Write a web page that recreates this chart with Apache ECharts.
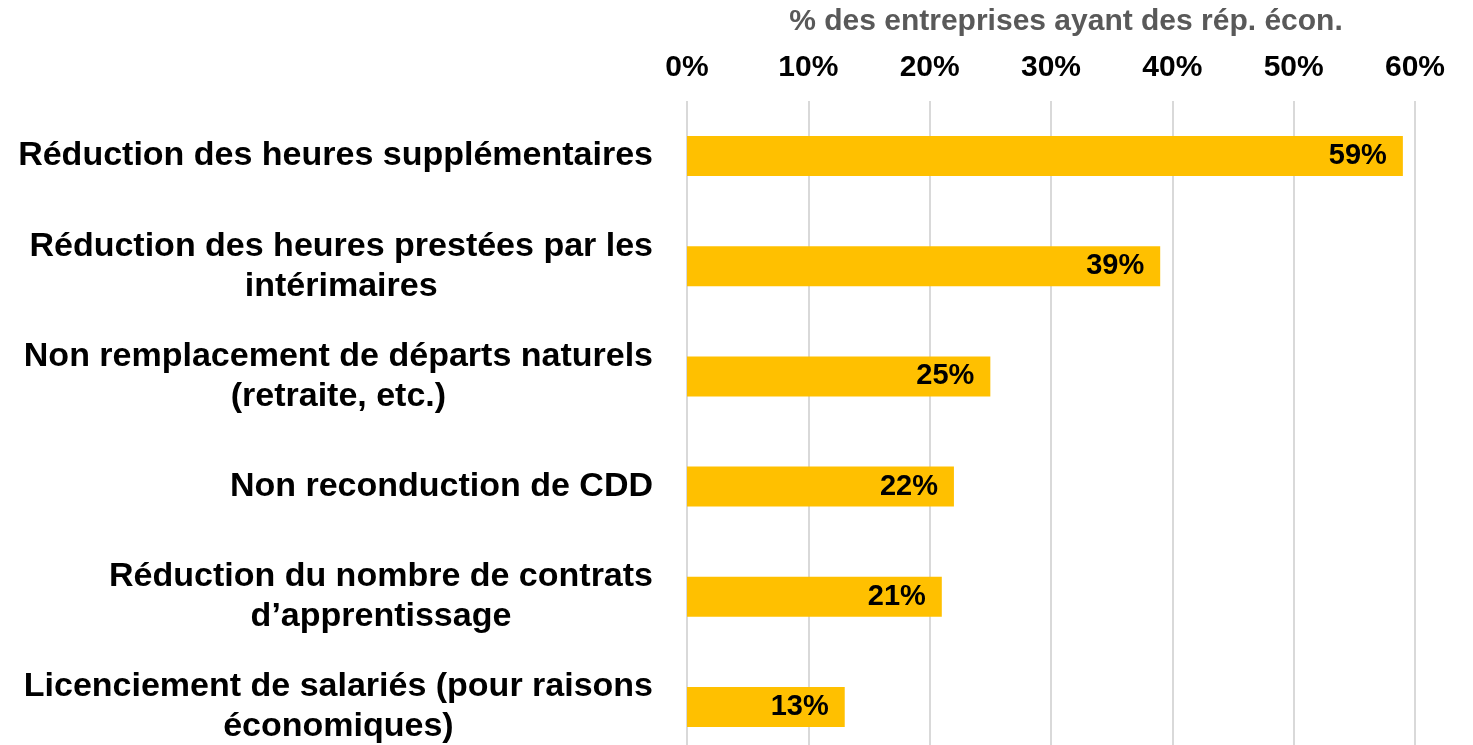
<!DOCTYPE html>
<html>
<head>
<meta charset="utf-8">
<script src="https://cdn.jsdelivr.net/npm/echarts@6/dist/echarts.min.js"></script>
<style>
  html, body { margin: 0; padding: 0; background: #fff; }
  #chart { width: 1473px; height: 745px; }
</style>
</head>
<body>
<div id="chart"></div>
<script>
var categories = [
  "Réduction des heures supplémentaires",
  "Réduction des heures prestées par les\nintérimaires",
  "Non remplacement de départs naturels\n(retraite, etc.)",
  "Non reconduction de CDD",
  "Réduction du nombre de contrats\nd’apprentissage",
  "Licenciement de salariés (pour raisons\néconomiques)"
];
var values = [59, 39, 25, 22, 21, 13];
var axisTitle = "% des entreprises ayant des rép. écon.";

var font = "'Liberation Sans', Arial, sans-serif";
var chart = echarts.init(document.getElementById("chart"));

chart.setOption({
  animation: false,
  grid: { left: 687, top: 101, width: 728, height: 661, outerBoundsMode: "none" },
  xAxis: {
    type: "value",
    position: "top",
    min: 0,
    max: 60,
    interval: 10,
    name: axisTitle,
    nameLocation: "middle",
    nameGap: 64,
    nameTextStyle: {
      color: "#595959",
      fontSize: 30,
      fontWeight: "bold",
      fontFamily: font,
      padding: [0, 0, 0, 30]
    },
    axisLine: { show: false },
    axisTick: { show: false },
    axisLabel: {
      formatter: "{value}%",
      color: "#000",
      fontSize: 30,
      fontWeight: "bold",
      fontFamily: font,
      margin: 18
    },
    splitLine: { lineStyle: { color: "#d9d9d9", width: 2 } }
  },
  yAxis: {
    type: "category",
    data: categories,
    inverse: true,
    axisLine: { show: false },
    axisTick: { show: false },
    axisLabel: {
      margin: 34,
      formatter: function(v) {
        return v.split("\n").map(function(l) { return "{c|" + l + "}"; }).join("\n");
      },
      rich: {
        c: {
          align: "center",
          color: "#000",
          fontSize: 34,
          fontWeight: "bold",
          fontFamily: font,
          lineHeight: 40
        }
      }
    }
  },
  series: [
    {
      type: "bar",
      data: values,
      barWidth: 40,
      itemStyle: { color: "#FFC000" },
      label: {
        show: true,
        position: "insideRight",
        distance: 16,
        formatter: "{c}%",
        color: "#000",
        fontSize: 29,
        fontWeight: "bold",
        fontFamily: font
      }
    }
  ]
});
</script>
</body>
</html>
